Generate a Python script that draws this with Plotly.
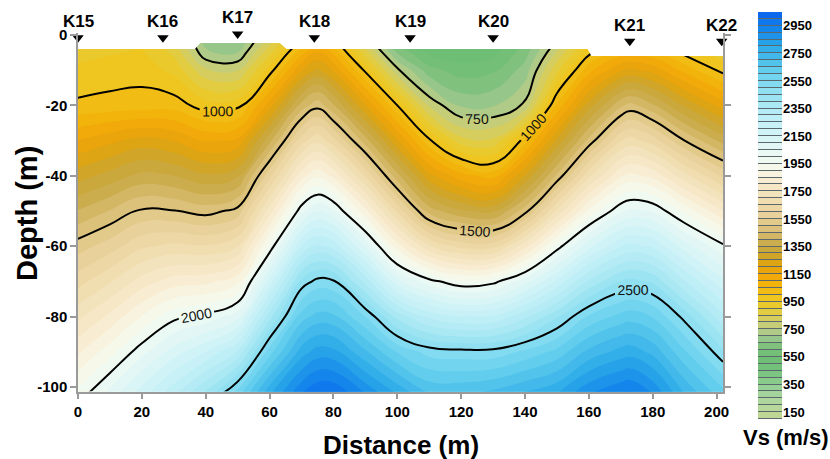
import plotly.graph_objects as go

# ---------------- data ----------------
distance = [0, 10, 20, 30, 40, 50, 60, 70, 75, 80, 90, 100, 110, 120, 130,
            140, 150, 160, 170, 173, 180, 190, 202]
depth = [0, -5, -10, -20, -30, -40, -50, -60, -70, -80, -90, -102]

# Vs profiles (m/s), one list per distance, values ordered by depth above
vs_profiles = [
    [910, 935, 960, 1011, 1152, 1278, 1403, 1525, 1630, 1736, 1842, 1969],   # 0
    [920, 945, 970, 1020, 1187, 1320, 1453, 1576, 1694, 1812, 1929, 2070],   # 10
    [930, 955, 978, 1024, 1220, 1365, 1509, 1640, 1771, 1902, 2031, 2180],   # 20
    [845, 890, 936, 1027, 1198, 1350, 1503, 1663, 1823, 1984, 2124, 2290],   # 30
    [670, 710, 811, 975, 1143, 1311, 1478, 1656, 1835, 2015, 2199, 2420],    # 40
    [659, 700, 799, 981, 1161, 1339, 1518, 1700, 1882, 2080, 2307, 2580],    # 50
    [795, 885, 973, 1177, 1385, 1585, 1774, 1962, 2169, 2380, 2577, 2793],   # 60
    [970, 1083, 1196, 1421, 1630, 1830, 2033, 2250, 2467, 2626, 2774, 2950], # 70
    [1042, 1152, 1262, 1482, 1686, 1889, 2096, 2310, 2517, 2669, 2821, 3000],# 75
    [986, 1091, 1196, 1406, 1619, 1837, 2057, 2284, 2508, 2662, 2815, 3000], # 80
    [758, 873, 988, 1206, 1424, 1644, 1867, 2095, 2333, 2548, 2708, 2900],   # 90
    [526, 644, 762, 1000, 1208, 1417, 1640, 1873, 2118, 2382, 2594, 2798],   # 100
    [455, 537, 619, 793, 1010, 1218, 1427, 1705, 2019, 2286, 2529, 2700],    # 110
    [450, 513, 576, 690, 870, 1119, 1357, 1632, 1961, 2248, 2517, 2700],     # 120
    [474, 532, 590, 695, 860, 1078, 1337, 1630, 1982, 2258, 2518, 2720],     # 130
    [585, 628, 672, 760, 1029, 1253, 1478, 1782, 2078, 2337, 2561, 2760],    # 140
    [725, 806, 887, 1060, 1260, 1460, 1710, 1974, 2210, 2442, 2616, 2800],   # 150
    [909, 989, 1083, 1275, 1467, 1686, 1910, 2134, 2359, 2558, 2714, 2900],  # 160
    [955, 1076, 1197, 1440, 1647, 1843, 2041, 2247, 2453, 2617, 2769, 2950], # 170
    [957, 1085, 1212, 1467, 1670, 1865, 2061, 2264, 2467, 2627, 2778, 2960], # 173
    [953, 1067, 1181, 1409, 1626, 1836, 2044, 2242, 2441, 2597, 2735, 2900], # 180
    [910, 985, 1083, 1292, 1500, 1717, 1935, 2125, 2304, 2482, 2607, 2750],  # 190
    [852, 917, 982, 1176, 1381, 1590, 1803, 2012, 2162, 2312, 2462, 2620],   # 202
]

# ground surface (top of the section)
topo_x = [0, 36.6, 38.3, 63.2, 65.3, 159.6, 160.8, 202]
topo_y = [-4, -4, -2.3, -2.3, -4, -4, -6, -6]

# stations
station_names = ["K15", "K16", "K17", "K18", "K19", "K20", "K21", "K22"]
station_x = [0, 26.6, 50, 74, 104, 130, 172.8, 201.6]
station_y = [-0.8, -0.8, 0.3, -0.8, -0.8, -0.8, -1.8, -1.8]

x_ticks = [0, 20, 40, 60, 80, 100, 120, 140, 160, 180, 200]
y_ticks = [0, -20, -40, -60, -80, -100]
y_ticktext = ["0", "-20", "-40", "-60", "-80", "-100"]

cb_ticks = [150, 350, 550, 750, 950, 1150, 1350, 1550, 1750, 1950, 2150,
            2350, 2550, 2750, 2950]
band_lo, band_hi, band_size = 100, 3050, 50

# ---------------- colours ----------------
VMIN, VMAX = 75, 3075
stops = [
    (75, "#c8d690"), (200, "#b4d79c"), (300, "#9ed39b"), (400, "#82c886"),
    (500, "#6cbd74"), (600, "#76bf79"), (680, "#98c68a"), (750, "#bccd85"),
    (830, "#d8cd5c"), (900, "#e8cb34"), (980, "#efc51e"), (1060, "#f2b50a"),
    (1150, "#f0a60a"), (1230, "#dca414"), (1300, "#caa533"), (1380, "#ccad50"),
    (1460, "#d9be74"), (1550, "#e6ce94"), (1700, "#f2e0b6"), (1850, "#f9f0d8"),
    (1950, "#f5faf0"), (2050, "#e6f8f4"), (2200, "#ccf2f7"), (2350, "#b0eaf4"),
    (2500, "#8adef1"), (2650, "#5ac9ec"), (2800, "#2aa9e8"), (2950, "#107fec"),
    (3075, "#0a5af0"),
]
colorscale = [[(v - VMIN) / (VMAX - VMIN), c] for v, c in stops]

z = [list(row) for row in zip(*vs_profiles)]  # rows = depth, cols = distance

FONT = "Liberation Sans, Arial, sans-serif"
AXC = "#9a9a9a"
SMOOTH = 1.3

fig = go.Figure()

# filled velocity field
fig.add_trace(go.Contour(
    x=distance, y=depth, z=z,
    colorscale=colorscale, autocontour=False,
    contours=dict(start=band_lo, end=band_hi, size=band_size,
                  coloring="fill", showlines=False),
    line=dict(width=0, smoothing=SMOOTH),
    showscale=False, hoverinfo="skip",
))
# labelled contour lines
fig.add_trace(go.Contour(
    x=distance, y=depth, z=z, autocontour=False,
    contours=dict(start=1000, end=2500, size=500, coloring="none",
                  showlabels=True,
                  labelfont=dict(family=FONT, size=14, color="#111")),
    line=dict(color="black", width=2, smoothing=SMOOTH),
    showscale=False, hoverinfo="skip",
))
fig.add_trace(go.Contour(
    x=distance, y=depth, z=z, autocontour=False,
    contours=dict(start=750, end=750, size=1, coloring="none",
                  showlabels=True,
                  labelfont=dict(family=FONT, size=14, color="#111")),
    line=dict(color="black", width=2, smoothing=SMOOTH),
    showscale=False, hoverinfo="skip",
))
# blank above the ground surface
mask_x = [-2] + topo_x + [204, 204, -2]
mask_y = [topo_y[0]] + topo_y + [topo_y[-1], 5, 5]
fig.add_trace(go.Scatter(
    x=mask_x, y=mask_y, mode="lines", fill="toself",
    fillcolor="white", line=dict(width=0, color="white"),
    hoverinfo="skip", showlegend=False,
))
# station markers
fig.add_trace(go.Scatter(
    x=station_x, y=station_y, mode="markers",
    marker=dict(symbol="triangle-down", size=10, color="black"),
    cliponaxis=False, hoverinfo="skip", showlegend=False,
))

# custom colour bar (banded)
centers = [band_lo + band_size / 2 + i * band_size
           for i in range(int((band_hi - band_lo) / band_size))]
fig.add_trace(go.Heatmap(
    x=[0.5], y=centers, z=[[c] for c in centers],
    colorscale=colorscale, zmin=VMIN, zmax=VMAX, showscale=False,
    ygap=1, xaxis="x2", yaxis="y2", hoverinfo="skip",
))

W, H = 830, 459
ml, mr, mt, mb = 78, 48, 12, 40
pw, ph = W - ml - mr, H - mt - mb
main_right = 723
y_top_val = 0.5
main_top = 35 - y_top_val * 3.52
main_bot = 391.5
x_dom = [0, (main_right - ml) / pw]
y_dom = [(H - mb - main_bot) / ph, (H - mb - main_top) / ph]
cb_dom = [(758 - ml) / pw, 1.0]

station_labels = [
    dict(text=n, x=sx, y=sy, xref="x", yref="y", yshift=16,
         xanchor="center", yanchor="middle", showarrow=False,
         font=dict(family=FONT, size=17, color="black", weight="bold"))
    for n, sx, sy in zip(station_names, station_x, station_y)
]

fig.update_layout(
    width=W, height=H,
    margin=dict(l=ml, r=mr, t=mt, b=mb, autoexpand=False),
    paper_bgcolor="white", plot_bgcolor="white",
    showlegend=False,
    xaxis=dict(domain=x_dom, range=[0, 202], tickvals=x_ticks,
               automargin=False,
               showgrid=False, zeroline=False, showline=True,
               linecolor=AXC, linewidth=1.5, ticks="outside", ticklen=6,
               tickcolor=AXC, tickwidth=1.5,
               tickfont=dict(family=FONT, size=15, color="black", weight="bold")),
    yaxis=dict(domain=y_dom, range=[-101.3, y_top_val], tickvals=y_ticks,
               automargin=False,
               ticktext=y_ticktext, showgrid=False, zeroline=False,
               showline=True, mirror="ticks", linecolor=AXC, linewidth=1.5,
               ticks="outside", ticklen=6, tickcolor=AXC, tickwidth=1.5,
               tickfont=dict(family=FONT, size=15, color="black", weight="bold")),
    xaxis2=dict(domain=cb_dom, range=[0, 1], visible=False, anchor="y2",
                automargin=False),
    yaxis2=dict(domain=[0, 1], range=[band_lo, band_hi], anchor="x2",
                automargin=False,
                side="right", tickvals=cb_ticks, ticks="", showgrid=False,
                zeroline=False, showline=False,
                tickfont=dict(family=FONT, size=13, color="black", weight="bold")),
    shapes=[dict(type="rect", xref="x2 domain", yref="y2 domain",
                 x0=0, x1=1, y0=0, y1=1, fillcolor="#5b686d",
                 line=dict(width=0), layer="below")],
    annotations=station_labels + [
        dict(text="Distance (m)", xref="paper", yref="paper",
             x=(x_dom[0] + x_dom[1]) / 2, y=(H - mb - 445) / ph,
             xanchor="center", yanchor="middle", showarrow=False,
             font=dict(family=FONT, size=26, color="black", weight="bold")),
        dict(text="Depth (m)", xref="paper", yref="paper",
             x=(27 - ml) / pw, y=(H - mb - 214) / ph, textangle=-90,
             xanchor="center", yanchor="middle", showarrow=False,
             font=dict(family=FONT, size=29, color="black", weight="bold")),
        dict(text="Vs (m/s)", xref="paper", yref="paper",
             x=(786 - ml) / pw, y=(H - mb - 438) / ph,
             xanchor="center", yanchor="middle", showarrow=False,
             font=dict(family=FONT, size=22, color="black", weight="bold")),
    ],
)

fig.write_html("out.html")
